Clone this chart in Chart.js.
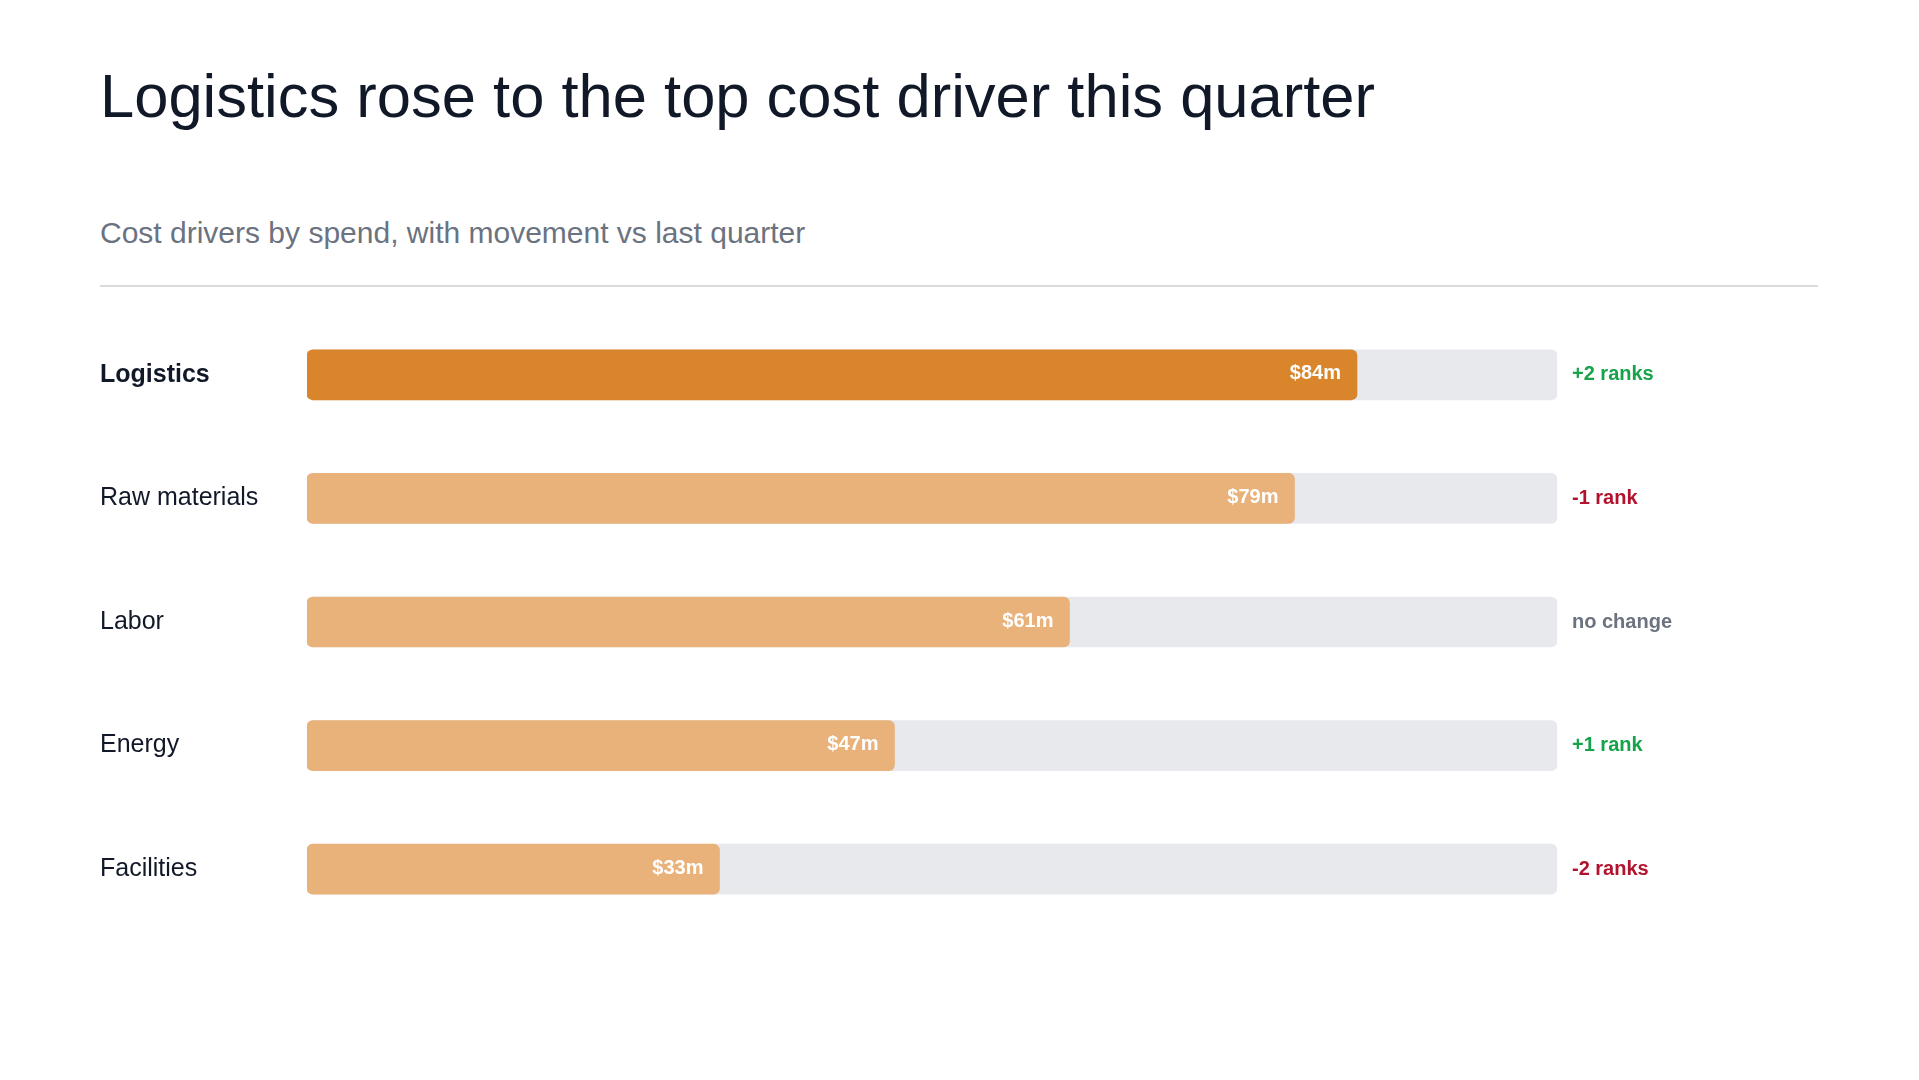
<!DOCTYPE html>
<html>
<head>
<meta charset="utf-8">
<title>Cost drivers</title>
<script src="https://cdn.jsdelivr.net/npm/chart.js@4.4.1/dist/chart.umd.min.js"></script>
<style>
    html, body {
        margin: 0;
        padding: 0;
        background: #ffffff;
    }
    body {
        width: 1919px;
        height: 1080px;
        position: relative;
        overflow: hidden;
        font-family: "Liberation Sans", Arial, Helvetica, sans-serif;
    }
    #title {
        position: absolute;
        left: 100px;
        top: 65px;
        font-size: 61.5px;
        line-height: 1;
        color: #111827;
        white-space: nowrap;
    }
    #subtitle {
        position: absolute;
        left: 100px;
        top: 218px;
        font-size: 30px;
        line-height: 1;
        color: #6b7280;
        white-space: nowrap;
    }
    #divider {
        position: absolute;
        left: 100px;
        top: 285px;
        width: 1718px;
        height: 2px;
        background: #d8dade;
    }
    #chartBox {
        position: absolute;
        left: 100px;
        top: 313px;
        width: 1719px;
        height: 618px;
    }
</style>
</head>
<body>
<div id="title">Logistics rose to the top cost driver this quarter</div>
<div id="subtitle">Cost drivers by spend, with movement vs last quarter</div>
<div id="divider"></div>
<div id="chartBox"><canvas id="driverChart"></canvas></div>

<script>
// Data
const drivers = ['Logistics', 'Raw materials', 'Labor', 'Energy', 'Facilities'];
const spend = [84, 79, 61, 47, 33];           // $m
const movement = ['+2 ranks', '-1 rank', 'no change', '+1 rank', '-2 ranks'];
const movementDir = [1, -1, 0, 1, -1];
const scaleMax = 100;
const highlight = 'Logistics';

const FONT = '"Liberation Sans", Arial, Helvetica, sans-serif';
const strongColor = '#d9852b';
const softColor = '#e8b27a';
const trackColor = '#e8e9ed';
const textDark = '#111827';

function moveColor(dir) {
    if (dir > 0) return '#16a34a';
    if (dir < 0) return '#b3122e';
    return '#6b7280';
}

// Writes "$84m" inside the end of each bar
const valueLabels = {
    id: 'valueLabels',
    afterDatasetsDraw(chart) {
        const ctx = chart.ctx;
        const meta = chart.getDatasetMeta(0);
        ctx.save();
        ctx.font = `bold 20px ${FONT}`;
        ctx.fillStyle = '#ffffff';
        ctx.textAlign = 'right';
        ctx.textBaseline = 'middle';
        meta.data.forEach((bar, i) => {
            ctx.fillText(`$${spend[i]}m`, bar.x - 16, bar.y - 1);
        });
        ctx.restore();
    }
};

// keep the category bands filling the whole canvas height
function fitAxis(width) {
    return (scale) => {
        scale.width = width;
        scale.paddingTop = 0;
        scale.paddingBottom = 0;
    };
}

const ctx = document.getElementById('driverChart').getContext('2d');
new Chart(ctx, {
    type: 'bar',
    data: {
        labels: drivers,
        datasets: [
            {
                label: 'Spend',
                data: spend,
                backgroundColor: drivers.map(d => d === highlight ? strongColor : softColor),
                borderRadius: 6,
                borderSkipped: false,
                barThickness: 50,
                grouped: false,
                order: 0
            },
            {
                label: 'Track',
                data: drivers.map(() => scaleMax),
                backgroundColor: trackColor,
                borderRadius: 6,
                borderSkipped: false,
                barThickness: 50,
                grouped: false,
                order: 1
            }
        ]
    },
    options: {
        indexAxis: 'y',
        responsive: true,
        maintainAspectRatio: false,
        animation: false,
        layout: { padding: 0 },
        plugins: {
            legend: { display: false },
            tooltip: { enabled: false }
        },
        scales: {
            x: {
                display: false,
                min: 0,
                max: scaleMax
            },
            y: {
                position: 'left',
                grid: { display: false },
                border: { display: false },
                afterFit: fitAxis(207),
                ticks: {
                    crossAlign: 'far',
                    color: textDark,
                    font: (c) => ({
                        family: FONT,
                        size: 25,
                        weight: drivers[c.index] === highlight ? 'bold' : 'normal'
                    })
                }
            },
            y2: {
                type: 'category',
                position: 'right',
                labels: drivers,
                offset: true,
                grid: { display: false },
                border: { display: false },
                afterFit: fitAxis(262),
                ticks: {
                    crossAlign: 'near',
                    padding: 7,
                    callback: (value, index) => movement[index],
                    color: (c) => moveColor(movementDir[c.index]),
                    font: { family: FONT, size: 20, weight: 'bold' }
                }
            }
        }
    },
    plugins: [valueLabels]
});
</script>
</body>
</html>
